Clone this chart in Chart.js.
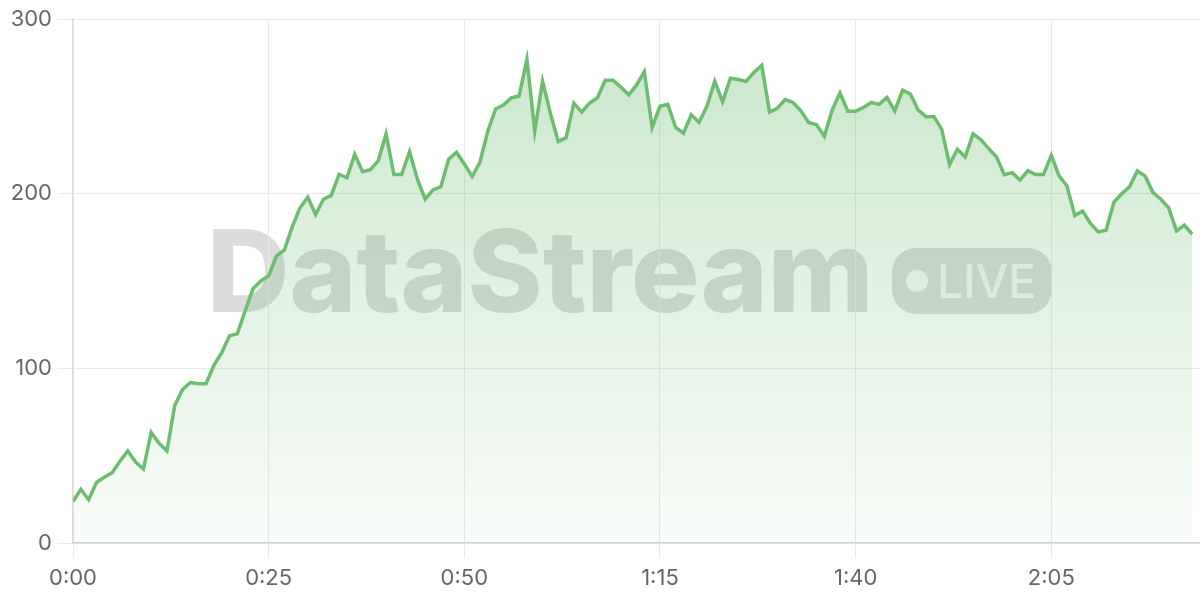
<!DOCTYPE html>
<html>
<head>
<meta charset="utf-8">
<script src="https://cdn.jsdelivr.net/npm/chart.js@4.4.1/dist/chart.umd.min.js"></script>
<style>
  html, body { margin: 0; padding: 0; background: #fff; }
  #wrap { position: relative; width: 1200px; height: 600px; overflow: hidden; }
  #mark { position: absolute; left: 0; top: 0; width: 1200px; height: 600px; z-index: 0; }
  #brand {
    position: absolute; left: 207px; top: 214px;
    font-family: Inter, sans-serif; font-weight: 800; font-size: 114px; line-height: 114px;
    color: #dcdcdc; white-space: nowrap;
  }
  #badge {
    position: absolute; left: 892px; top: 248px; width: 160px; height: 66px;
    border-radius: 24px; background: #dcdcdc;
  }
  #badge .dot {
    position: absolute; left: 14px; top: 22px; width: 22px; height: 22px;
    border-radius: 50%; background: rgba(255,255,255,0.85);
  }
  #badge .txt {
    position: absolute; left: 45px; top: 10px;
    font-family: Inter, sans-serif; font-weight: 500; font-size: 46px; line-height: 46px;
    color: rgba(255,255,255,0.85); white-space: nowrap;
  }
  #chart { position: absolute; left: 0; top: 0; z-index: 1; }
</style>
</head>
<body>
<div id="wrap">
  <div id="mark">
    <div id="brand">DataStream</div>
    <div id="badge"><span class="dot"></span><span class="txt">LIVE</span></div>
  </div>
  <canvas id="chart" width="1200" height="600"></canvas>
</div>
<script>
// one reading per minute, 0:00 .. 2:23
const viewers = [
  23.7, 30.8, 24.8, 34.7, 37.6, 40.2, 46.8, 52.7, 46.4, 42.4,
  63.3, 57.1, 52.7, 78.7, 87.9, 91.9, 91.2, 91.2, 101.8, 109,
  118.7, 119.8, 133, 145.7, 150.1, 153, 164.4, 167.7, 180.9, 191.9,
  198, 188.1, 196.9, 199.1, 211.2, 209.2, 222.6, 212.7, 213.8, 218.9,
  234.3, 211, 211, 224.2, 208.4, 196.9, 202.2, 204, 219.8, 223.7,
  217.1, 209.9, 218.2, 235.8, 248.6, 250.8, 254.9, 256, 277, 236,
  264.5, 246, 230, 232.1, 251.9, 246.8, 251.9, 254.9, 265, 265,
  261.1, 256.7, 262.2, 269.9, 238, 250.1, 251.2, 238, 234.7, 245.3,
  240.9, 250.1, 264.4, 252.7, 266.2, 265.5, 264.4, 269.5, 273.6, 246.8,
  249, 254, 252.3, 247.5, 240.8, 239.6, 233, 247.9, 257.8, 247.3,
  247.3, 249.5, 252.3, 251.2, 255.2, 247.5, 259.3, 257.1, 247.9, 244.2,
  244.2, 236.9, 216.7, 225.5, 221.1, 234.3, 231, 225.9, 221.1, 211,
  212.1, 207.9, 213.2, 211, 211, 222, 210.1, 204.6, 187.5, 190.1,
  183.1, 178.2, 179.1, 195.2, 200, 204, 213.2, 210.1, 200.7, 196.9,
  191.9, 178.7, 182, 176.9
];

const xTickValues = [0, 25, 50, 75, 100, 125];
const xTickLabels = ["0:00", "0:25", "0:50", "1:15", "1:40", "2:05"];
const yTickValues = [0, 100, 200, 300];

const points = viewers.map((v, i) => ({ x: i, y: v }));

function fillGradient(context){
    const area = context.chart.chartArea;
    if(!area) return "rgba(102,187,106,0.2)";
    const g = context.chart.ctx.createLinearGradient(0, area.top, 0, area.bottom);
    g.addColorStop(0, "rgba(102,187,106,0.36)");
    g.addColorStop(1, "rgba(102,187,106,0.04)");
    return g;
}

Chart.defaults.font.family = "Inter, sans-serif";
Chart.defaults.font.size = 22;
Chart.defaults.color = "#666";

new Chart(document.getElementById("chart"), {
    type: "line",
    data: {
        datasets: [{
            data: points,
            borderColor: "#6dbd70",
            borderWidth: 3.5,
            pointRadius: 0,
            tension: 0,
            fill: "origin",
            backgroundColor: fillGradient
        }]
    },
    options: {
        responsive: false,
        animation: false,
        layout: { padding: { top: 19, right: 0, bottom: 0, left: 0 } },
        plugins: { legend: { display: false }, tooltip: { enabled: false } },
        scales: {
            x: {
                type: "linear",
                min: 0,
                max: 144,
                afterBuildTicks: scale => { scale.ticks = xTickValues.map(v => ({ value: v })); },
                afterFit: scale => { scale.height = 57; },
                ticks: {
                    padding: 7,
                    maxRotation: 0,
                    callback: (v) => xTickLabels[xTickValues.indexOf(v)]
                },
                grid: { color: "#e9e9e9", tickLength: 15 },
                border: { color: "#d4d4d4", width: 1.5 }
            },
            y: {
                min: 0,
                max: 300,
                afterBuildTicks: scale => { scale.ticks = yTickValues.map(v => ({ value: v })); },
                afterFit: scale => { scale.width = 73; },
                ticks: { padding: 6 },
                grid: { color: "#e9e9e9", tickLength: 15 },
                border: { color: "#dadada", width: 1.5 }
            }
        }
    }
});
</script>
</body>
</html>
